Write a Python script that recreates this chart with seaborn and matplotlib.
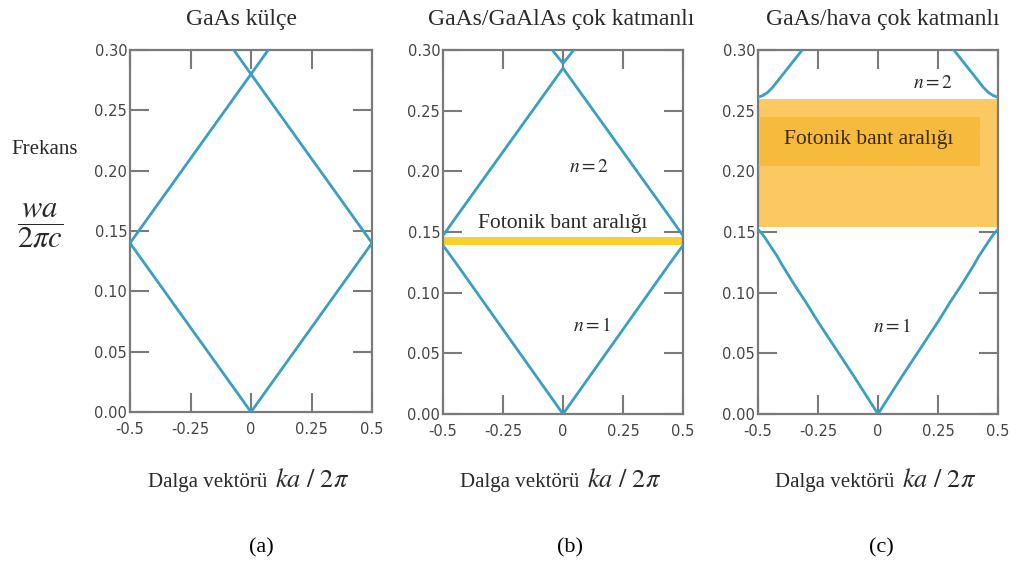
import numpy as np
import pandas as pd
import matplotlib
matplotlib.use("Agg")
import matplotlib.pyplot as plt
import seaborn as sns

# wave vector ka/2pi and frequency wa/2pic
# (a) bulk GaAs, folded light line
bulk_k = [[-0.5, 0.0, 0.5], [-0.5, 0.0, 0.5], [-0.071, 0.0, 0.071]]
bulk_f = [[0.14, 0.0, 0.14], [0.14, 0.28, 0.14], [0.30, 0.28, 0.30]]

# (b) GaAs/GaAlAs multilayer, small gap
ml_k = [[-0.5, -0.45, 0.0, 0.45, 0.5], [-0.5, -0.45, 0.0, 0.45, 0.5], [-0.045, 0.0, 0.045]]
ml_f = [[0.139, 0.1255, 0.0, 0.1255, 0.139], [0.147, 0.161, 0.285, 0.161, 0.147], [0.30, 0.289, 0.30]]
ml_gap = (0.139, 0.146)

# (c) GaAs/air multilayer, wide gap
air_k = [
    [-0.5, -0.485, -0.47, -0.45, -0.42, -0.4, -0.35, -0.3, -0.25, -0.2, -0.1, 0.0,
     0.1, 0.2, 0.25, 0.3, 0.35, 0.4, 0.42, 0.45, 0.47, 0.485, 0.5],
    [-0.5, -0.48, -0.46, -0.44, -0.42, -0.4, -0.38, -0.36, -0.34, -0.32, -0.315],
    [0.315, 0.32, 0.34, 0.36, 0.38, 0.4, 0.42, 0.44, 0.46, 0.48, 0.5],
]
air_f = [
    [0.152, 0.149, 0.145, 0.139, 0.130, 0.123, 0.107, 0.092, 0.076, 0.061, 0.031, 0.0,
     0.031, 0.061, 0.076, 0.092, 0.107, 0.123, 0.130, 0.139, 0.145, 0.149, 0.152],
    [0.261, 0.2625, 0.265, 0.269, 0.274, 0.279, 0.284, 0.289, 0.294, 0.299, 0.300],
    [0.300, 0.299, 0.294, 0.289, 0.284, 0.279, 0.274, 0.269, 0.265, 0.2625, 0.261],
]
air_gap = (0.154, 0.260)
air_label_box = (0.204, 0.245)

xticks = [-0.5, -0.25, 0.0, 0.25, 0.5]
xtick_labels = ["-0.5", "-0.25", "0", "0.25", "0.5"]
yticks = [0.0, 0.05, 0.10, 0.15, 0.20, 0.25, 0.30]
ytick_labels = ["0.00", "0.05", "0.10", "0.15", "0.20", "0.25", "0.30"]

titles = ["GaAs külçe", "GaAs/GaAlAs çok katmanlı", "GaAs/hava çok katmanlı"]
panel_tags = ["(a)", "(b)", "(c)"]


def bands_frame(ks, fs):
    rows = []
    for i, (k, f) in enumerate(zip(ks, fs)):
        for kk, ff in zip(k, f):
            rows.append({"k": kk, "freq": ff, "band": i})
    return pd.DataFrame(rows)


sns.set_style("ticks")
plt.rcParams["mathtext.fontset"] = "stix"
serif = ["Liberation Serif", "DejaVu Serif"]
line_col = "#3a9fc2"
spine_col = "#7a7a7a"
txt_col = "#2a2a2a"

W, H = 1016, 570
fig = plt.figure(figsize=(W / 100, H / 100), dpi=100)

# axes boxes in pixels: left, right, top, bottom
boxes = [(130, 372, 50, 412), (443, 683, 50, 414), (758, 998, 50, 414)]
axes = []
for (l, r, t, b) in boxes:
    ax = fig.add_axes([l / W, 1 - b / H, (r - l) / W, (b - t) / H])
    axes.append(ax)

data = [(bulk_k, bulk_f), (ml_k, ml_f), (air_k, air_f)]

for ax, (ks, fs) in zip(axes, data):
    df = bands_frame(ks, fs)
    sns.lineplot(data=df, x="k", y="freq", units="band", estimator=None, sort=False,
                 color=line_col, lw=2.0, legend=False, ax=ax, zorder=3)

# gaps
axes[1].axhspan(*ml_gap, color="#f8d02c", lw=0, zorder=1)
axes[2].axhspan(*air_gap, color="#fbc862", lw=0, zorder=1)
axes[2].fill_between([-0.49, 0.425], air_label_box[0], air_label_box[1], color="#f6bb3c", lw=0, zorder=1.5)

for ax in axes:
    ax.set_xlim(-0.5, 0.5)
    ax.set_ylim(0, 0.30)
    ax.set_xticks(xticks)
    ax.set_xticklabels(xtick_labels)
    ax.set_yticks(yticks)
    ax.set_yticklabels(ytick_labels)
    ax.set_xlabel("")
    ax.set_ylabel("")
    ax.tick_params(direction="in", length=14, width=1.5, color=spine_col, top=True, right=True,
                   labelsize=10.5, labelcolor="#444444")
    ax.tick_params(axis="x", pad=7)
    ax.tick_params(axis="y", pad=2)
    for s in ax.spines.values():
        s.set_color(spine_col)
        s.set_linewidth(1.6)
    ax.set_facecolor("white")

# panel texts
axes[1].text(0.0, 0.157, "Fotonik bant aralığı", ha="center", va="center", family=serif, size=15.5, color=txt_col)
axes[1].text(0.11, 0.204, "$n = 2$", ha="center", va="center", size=14, color=txt_col)
axes[1].text(0.12, 0.073, "$n = 1$", ha="center", va="center", size=14, color=txt_col)
axes[2].text(-0.04, 0.226, "Fotonik bant aralığı", ha="center", va="center", family=serif, size=15.5, color="#3a2a10")
axes[2].text(0.23, 0.273, "$n = 2$", ha="center", va="center", size=14, color=txt_col)
axes[2].text(0.06, 0.072, "$n = 1$", ha="center", va="center", size=14, color=txt_col)

# titles, x labels and tags
title_x = [242, 561, 883]
tag_x = [261, 570, 881]
for i, (l, r, t, b) in enumerate(boxes):
    cx = (l + r) / 2
    fig.text(title_x[i] / W, 1 - 20 / H, titles[i], ha="center", va="center", family=serif, size=17, color=txt_col)
    fig.text((cx + 16) / W, 1 - 487 / H, "Dalga vektörü", ha="right", va="baseline", family=serif, size=15, color=txt_col)
    fig.text((cx + 24) / W, 1 - 487 / H, r"$ka\ /\ 2\pi$", ha="left", va="baseline", size=19, color=txt_col)
    fig.text(tag_x[i] / W, 1 - 548 / H, panel_tags[i], ha="center", va="center", family=serif, size=16, color="black")

fig.text(45 / W, 1 - 150 / H, "Frekans", ha="center", va="center", family=serif, size=15, color=txt_col)
fig.text(40 / W, 1 - 226 / H, r"$\dfrac{wa}{2\pi c}$", ha="center", va="center", size=22, color=txt_col)

fig.savefig("out.png", dpi=100, facecolor="white")
